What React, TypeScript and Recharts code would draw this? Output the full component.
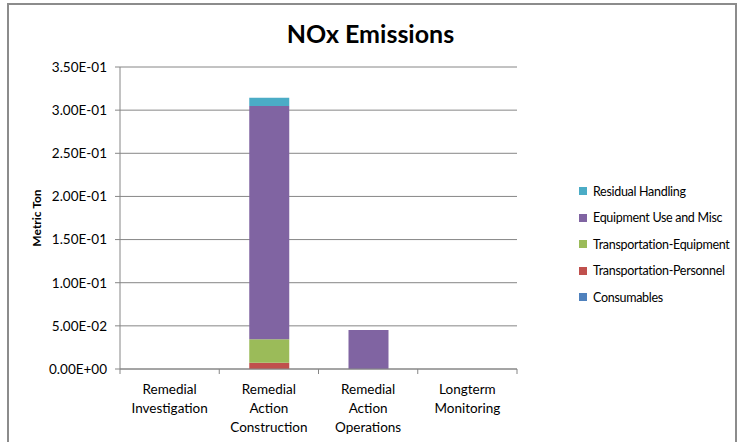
import React from 'react';
import { BarChart, Bar, XAxis, YAxis, CartesianGrid } from 'recharts';

const categories = [
  'Remedial\nInvestigation',
  'Remedial\nAction\nConstruction',
  'Remedial\nAction\nOperations',
  'Longterm\nMonitoring',
];
const consumables = [0, 0, 0, 0];
const transportationPersonnel = [0, 0.0073, 0, 0];
const transportationEquipment = [0, 0.0271, 0, 0];
const equipmentUseMisc = [0, 0.2704, 0.0452, 0];
const residualHandling = [0, 0.0096, 0, 0];
const yTicks = [0, 0.05, 0.1, 0.15, 0.2, 0.25, 0.3, 0.35];

const seriesDefs = [
  { key: 'consumables', name: 'Consumables', color: '#4F81BD', values: consumables },
  { key: 'tp', name: 'Transportation-Personnel', color: '#C0504D', values: transportationPersonnel },
  { key: 'te', name: 'Transportation-Equipment', color: '#9BBB59', values: transportationEquipment },
  { key: 'eu', name: 'Equipment Use and Misc', color: '#8064A2', values: equipmentUseMisc },
  { key: 'rh', name: 'Residual Handling', color: '#4BACC6', values: residualHandling },
];

const data = categories.map((c, i) => {
  const row: any = { cat: c };
  seriesDefs.forEach((s) => (row[s.key] = s.values[i]));
  return row;
});

const FONT = 'Lato, "Open Sans", sans-serif';
const W = 741;
const H = 442;
const M = { top: 67, right: 224, bottom: 0, left: 0 };
const X_H = 73;
const Y_W = 120;
const BAND = (W - M.right - M.left - Y_W) / categories.length;

function fmtExp(v: number) {
  if (v === 0) return '0.00E+00';
  const s = v.toExponential(2);
  const [m, e] = s.split('e');
  const n = parseInt(e, 10);
  const sign = n < 0 ? '-' : '+';
  const abs = Math.abs(n).toString().padStart(2, '0');
  return `${m}E${sign}${abs}`;
}

const XTick = (props: any) => {
  const { x, y, payload, index } = props;
  const lines = String(payload.value).split('\n');
  const left = x - BAND / 2;
  return (
    <g>
      <line x1={left} x2={left} y1={y - 8} y2={y - 3} stroke="#868686" />
      {index === categories.length - 1 && (
        <line x1={x + BAND / 2} x2={x + BAND / 2} y1={y - 8} y2={y - 3} stroke="#868686" />
      )}
      <text x={x} y={y + 17} textAnchor="middle" fontSize={13.5} fontFamily={FONT} fill="#000">
        {lines.map((l, i) => (
          <tspan key={i} x={x} dy={i === 0 ? 0 : 19}>
            {l}
          </tspan>
        ))}
      </text>
    </g>
  );
};

const LegendBox = () => {
  const items = [...seriesDefs].reverse();
  return (
    <div
      style={{
        position: 'absolute',
        left: 579,
        top: 178,
        fontFamily: FONT,
        fontSize: 12.5,
        letterSpacing: -0.3,
        color: '#000',
        whiteSpace: 'nowrap',
      }}
    >
      {items.map((s) => (
        <div key={s.key} style={{ display: 'flex', alignItems: 'center', height: 26.5 }}>
          <span style={{ width: 8, height: 8, background: s.color, display: 'inline-block', marginRight: 6 }} />
          <span>{s.name}</span>
        </div>
      ))}
    </div>
  );
};

export default function App() {
  return (
    <div
      style={{
        position: 'absolute',
        left: 0,
        top: 0,
        width: W,
        height: H,
        background: '#fff',
        overflow: 'hidden',
      }}
    >
      <div
        style={{
          position: 'absolute',
          left: 7,
          top: 3,
          width: 726,
          height: H,
          borderLeft: '2px solid #8c8c8c',
          borderTop: '2px solid #8c8c8c',
          borderRight: '2px solid #8c8c8c',
        }}
      />
      <div
        style={{
          position: 'absolute',
          left: 0,
          top: 18,
          width: W,
          textAlign: 'center',
          fontFamily: FONT,
          fontWeight: 'bold',
          fontSize: 25,
          color: '#000',
        }}
      >
        NOx Emissions
      </div>
      <div style={{ position: 'absolute', left: 0, top: 0 }}>
        <BarChart width={W} height={H} data={data} margin={M} barSize={40}>
          <CartesianGrid horizontal vertical={false} stroke="#868686" />
          <XAxis
            dataKey="cat"
            interval={0}
            axisLine={{ stroke: '#868686' }}
            tickLine={false}
            tick={<XTick />}
            height={X_H}
          />
          <YAxis
            width={Y_W}
            domain={[0, 0.35]}
            ticks={yTicks}
            interval={0}
            tickFormatter={fmtExp}
            axisLine={{ stroke: '#868686' }}
            tickLine={{ stroke: '#868686' }}
            tickSize={5}
            tickMargin={8}
            tick={{ fontSize: 13.5, fontFamily: FONT, fill: '#000' }}
            label={{
              content: (p: any) => {
                const vb = p.viewBox || {};
                const cy = (vb.y ?? 67) + (vb.height ?? 302) / 2;
                return (
                  <text
                    x={41}
                    y={cy}
                    transform={`rotate(-90 41 ${cy})`}
                    textAnchor="middle"
                    fontFamily={FONT}
                    fontWeight="bold"
                    fontSize={12}
                    fill="#000"
                  >
                    Metric Ton
                  </text>
                );
              },
            }}
          />
          {seriesDefs.map((s) => (
            <Bar key={s.key} dataKey={s.key} name={s.name} stackId="a" fill={s.color} isAnimationActive={false} />
          ))}
        </BarChart>
      </div>
      <LegendBox />
    </div>
  );
}
